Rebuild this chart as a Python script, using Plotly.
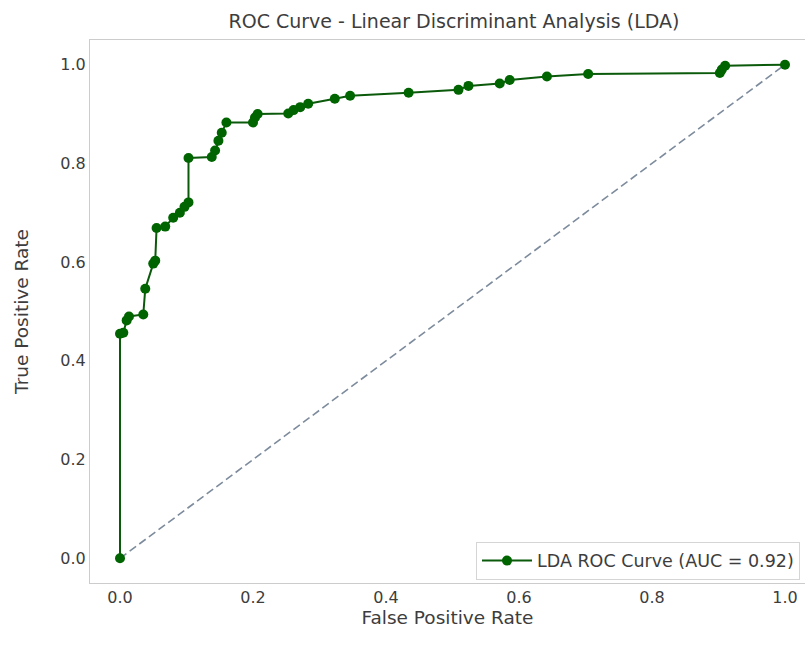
import plotly.graph_objects as go

fpr = [0.0, 0.0, 0.005, 0.010, 0.0135, 0.035, 0.038, 0.050, 0.053, 0.055,
       0.068, 0.080, 0.090, 0.097, 0.103, 0.103, 0.138, 0.143, 0.148, 0.153,
       0.160, 0.200, 0.203, 0.207, 0.253, 0.261, 0.271, 0.283, 0.323, 0.346,
       0.434, 0.509, 0.524, 0.571, 0.586, 0.642, 0.704, 0.902, 0.905, 0.910, 1.0]
tpr = [0.0, 0.455, 0.457, 0.482, 0.490, 0.494, 0.546, 0.597, 0.603, 0.669,
       0.672, 0.690, 0.700, 0.712, 0.721, 0.811, 0.813, 0.826, 0.846, 0.862,
       0.883, 0.883, 0.893, 0.900, 0.901, 0.908, 0.914, 0.921, 0.931, 0.937,
       0.943, 0.949, 0.957, 0.962, 0.969, 0.976, 0.981, 0.983, 0.990, 0.998, 1.0]
diag = [0.0, 1.0]
auc_label = "LDA ROC Curve (AUC = 0.92)"
title = "ROC Curve - Linear Discriminant Analysis (LDA)"
ticks = [0.0, 0.2, 0.4, 0.6, 0.8, 1.0]
tick_text = ["0.0", "0.2", "0.4", "0.6", "0.8", "1.0"]

FONT = "DejaVu Sans"
TXT = "#3d3d3d"

fig = go.Figure()
fig.add_trace(go.Scatter(
    x=diag, y=diag, mode="lines", showlegend=False,
    line=dict(color="#7d8b9c", width=1.6, dash="8px,4px"), hoverinfo="skip"))
fig.add_trace(go.Scatter(
    x=fpr, y=tpr, mode="lines+markers", name=auc_label,
    line=dict(color="#0b5a0b", width=2),
    marker=dict(color="#006400", size=10)))

fig.update_layout(
    width=805, height=646,
    margin=dict(l=90, r=0, t=40, b=63),
    paper_bgcolor="white", plot_bgcolor="white",
    font=dict(family=FONT, size=16, color=TXT),
    title=dict(text=title, x=(90 + 818) / 2 / 805, xanchor="center",
               y=1 - 21 / 646, yanchor="middle",
               font=dict(family=FONT, size=19, color=TXT)),
    legend=dict(x=(800 - 90) / 715, xanchor="right", y=0.006, yanchor="bottom",
                bgcolor="white", bordercolor="#d5d5d5", borderwidth=1,
                itemwidth=50,
                font=dict(family=FONT, size=17.5, color=TXT)),
)
fig.update_xaxes(
    range=[-30 / 665, 685 / 665], showgrid=False, zeroline=False,
    tickvals=ticks, ticktext=tick_text, ticks="",
    showline=True, linecolor="#cccccc", linewidth=1, mirror=True,
    title=dict(text="False Positive Rate", standoff=4, font=dict(size=18.5, color=TXT)),
    tickfont=dict(size=16, color=TXT))
fig.update_yaxes(
    range=[-0.05, 1.05], showgrid=False, zeroline=False,
    tickvals=ticks, ticktext=tick_text, ticks="",
    showline=True, linecolor="#cccccc", linewidth=1,
    title=dict(text="True Positive Rate", standoff=26, font=dict(size=18.5, color=TXT)),
    tickfont=dict(size=16, color=TXT))

fig.write_html("out.html")
